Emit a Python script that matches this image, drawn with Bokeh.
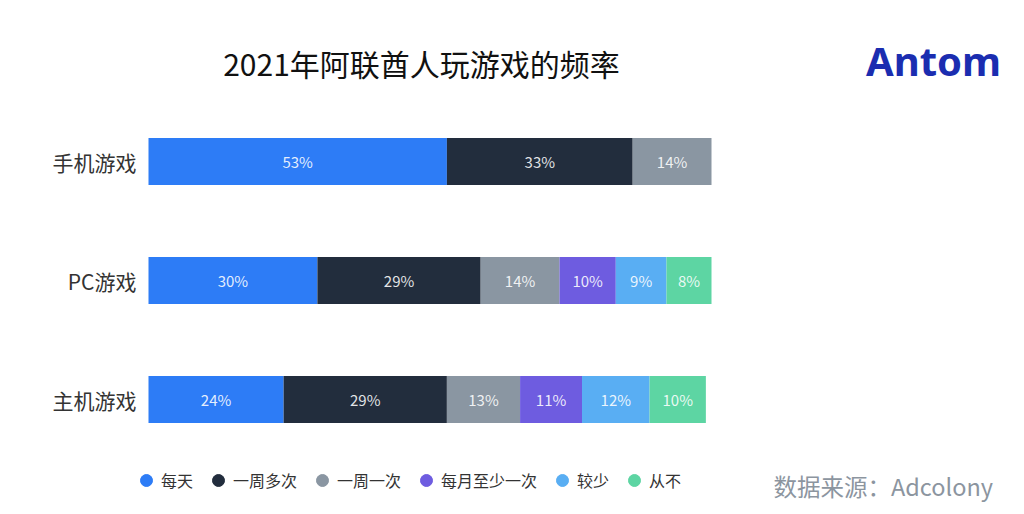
import numpy as np
from bokeh.plotting import figure
from bokeh.models import ColumnDataSource, Range1d, Label, Legend, LegendItem
from bokeh.core.properties import value
from bokeh.embed import file_html
from bokeh.resources import INLINE

# ---- data ----
categories = ["手机游戏", "PC游戏", "主机游戏"]
series = ["每天", "一周多次", "一周一次", "每月至少一次", "较少", "从不"]
daily = [53, 30, 24]
several_week = [33, 29, 29]
once_week = [14, 14, 13]
monthly = [0, 10, 11]
rarely = [0, 9, 12]
never = [0, 8, 10]
colors = ["#2D7CF6", "#222D3D", "#8A96A2", "#6E5CE0", "#59AEF3", "#5DD5A3"]
title_text = "2021年阿联酋人玩游戏的频率"
source_text = "数据来源：Adcolony"
logo_text = "Antom"

FONT = "Noto Sans CJK SC"

W, H = 1008, 506
values = [daily, several_week, once_week, monthly, rarely, never]
ypos = [2, 1, 0]

p = figure(width=W, height=H, output_backend="svg", toolbar_location=None,
           min_border=0, min_border_left=0, min_border_right=0,
           min_border_top=0, min_border_bottom=0,
           x_range=Range1d(-148 / 5.63, (W - 148) / 5.63),
           y_range=Range1d(-(H - 399) / 119, -(H - 399) / 119 + H / 119))
p.axis.visible = False
p.grid.visible = False
p.outline_line_color = None
p.background_fill_color = "white"
p.border_fill_color = "white"

data = {"y": ypos, "cat": categories}
for name, vals in zip(series, values):
    data[name] = vals
src = ColumnDataSource(data)
p.hbar_stack(series, y="y", height=0.395, source=src, color=colors, line_color=None)

# in-bar labels
lx, ly, lt = [], [], []
for j, y in enumerate(ypos):
    left = 0
    for vals in values:
        v = vals[j]
        if v > 0:
            lx.append(left + v / 2)
            ly.append(y)
            lt.append(f"{v}%")
        left += v
p.text(x="x", y="y", text="t", source=ColumnDataSource(dict(x=lx, y=ly, t=lt)),
       text_align="center", text_baseline="middle", text_color="white", text_alpha=0.88,
       text_font=value(FONT), text_font_size="15px")

# category labels
p.text(x=0, y="y", text="cat", source=src, x_offset=-12,
       text_align="right", text_baseline="middle", text_color="#333333",
       text_font=value(FONT), text_font_size="21px")

# title, logo, source
p.add_layout(Label(x=421, y=H - 62, x_units="screen", y_units="screen", text=title_text,
                   text_align="center", text_baseline="middle", text_color="#111111",
                   text_font=FONT, text_font_size="30px"))
p.add_layout(Label(x=933, y=H - 60, x_units="screen", y_units="screen", text=logo_text,
                   text_align="center", text_baseline="middle", text_color="#1B2DB0",
                   text_font="Noto Sans", text_font_size="40px", text_font_style="bold"))
p.add_layout(Label(x=773, y=H - 485, x_units="screen", y_units="screen", text=source_text,
                   text_align="left", text_baseline="middle", text_color="#8C959F",
                   text_font=FONT, text_font_size="23.5px"))

# legend
leg_src = ColumnDataSource(dict(x=[np.nan] * 6, y=[np.nan] * 6, c=colors, s=series))
lr = p.scatter(x="x", y="y", color="c", size=13, source=leg_src)
items = [LegendItem(label=s, renderers=[lr], index=i) for i, s in enumerate(series)]
legend = Legend(items=items, orientation="horizontal", location=(131, H - 480 - 15),
                glyph_width=30, glyph_height=30, label_standoff=0, spacing=10,
                padding=0, margin=0, border_line_alpha=0, background_fill_alpha=0,
                label_text_font=FONT, label_text_font_size="16px",
                label_text_color="#333333", label_text_baseline="middle")
p.add_layout(legend, "center")

open("out.html", "w").write(file_html(p, INLINE))
